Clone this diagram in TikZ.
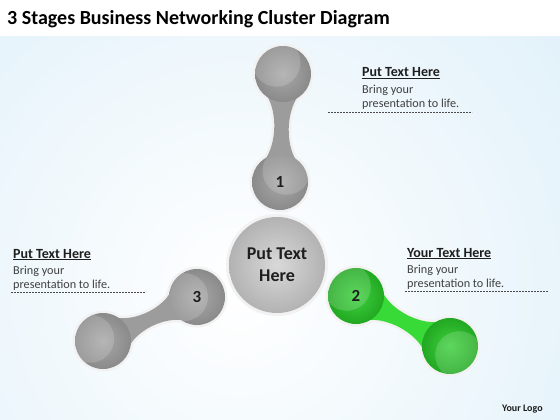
\documentclass[tikz,border=0pt]{standalone}
\usepackage{fontspec}
\setmainfont{Carlito}
\usetikzlibrary{calc}

\definecolor{bgblue}{HTML}{D2EAF7}
\definecolor{ballgray}{HTML}{A8A8A8}
\definecolor{balldark}{HTML}{8A8A8A}
\definecolor{neckgray}{HTML}{9C9C9C}
\definecolor{greenlight}{HTML}{3ED03E}
\definecolor{greendark}{HTML}{22A822}
\definecolor{neckgreen}{HTML}{38DA38}
\definecolor{rimwhite}{HTML}{F2F2F2}
\definecolor{textdark}{HTML}{1E1E1E}

\pgfdeclarelayer{back}
\pgfdeclarelayer{rim}
\pgfdeclarelayer{mid}
\pgfsetlayers{back,rim,mid,main}

\tikzset{
  ball/.style={circle, inner sep=0pt, minimum size=#1},
  crescent/.style={path picture={\fill[white, opacity=0.16]
      ($(path picture bounding box.center)+(#1:13pt)$) circle (24pt);}},
  grayball/.style={ball=56pt, inner color=ballgray, outer color=balldark},
  greenball/.style={ball=56pt, inner color=greenlight, outer color=greendark},
  numtext/.style={font=\bfseries\fontsize{17}{20}\selectfont, text=textdark},
  head/.style={anchor=base west, inner sep=0pt, font=\bfseries\fontsize{14}{16}\selectfont, text=textdark},
  body/.style={anchor=base west, inner sep=0pt, font=\fontsize{12.2}{14}\selectfont, text=textdark!85},
  dashline/.style={draw=textdark!80, dashed, dash pattern=on 2pt off 1pt, line width=0.6pt}
}

\begin{document}
\begin{tikzpicture}[x=1pt, y=-1pt]
  \useasboundingbox (0,0) rectangle (560,420);

  % Background
  \begin{pgfonlayer}{back}
    \fill[white] (0,0) rectangle (560,420);
    \begin{scope}
      \clip (0,37) rectangle (560,420);
      \fill[bgblue] (0,37) rectangle (560,420);
      \shade[inner color=white, outer color=bgblue] (240,290) circle (640);
    \end{scope}
  \end{pgfonlayer}

  % Title
  \node[anchor=base west, inner sep=0pt, font=\bfseries\fontsize{20}{24}\selectfont, text=black] (title) at (7,25)
    {3 Stages Business Networking Cluster Diagram};

  % Center ball
  \node[ball=96pt, inner color=gray!30, outer color=gray!60,
        align=center, font=\bfseries\fontsize{18}{22}\selectfont, text=textdark] (hub) at (277,265)
    {Put Text\\Here};

  % Stage balls
  \node[grayball, crescent=60, numtext] (b1in) at (280,182) {1};
  \node[grayball, crescent=120] (b1out) at (283,74) {};
  \node[greenball, crescent=135, numtext] (b2in) at (356,296) {2};
  \node[greenball, crescent=-45] (b2out) at (450,346) {};
  \node[grayball, crescent=180, numtext] (b3in) at (197,297) {3};
  \node[grayball, crescent=170] (b3out) at (103,341) {};

  % Necks between the balls, with a white rim round each dumbbell
  \foreach \a/\b/\c in {b1in/b1out/neckgray, b2in/b2out/neckgreen, b3in/b3out/neckgray}{
    \begin{pgfonlayer}{rim}
      \fill[rimwhite] (\a) circle (30.5pt) (\b) circle (30.5pt);
      \draw[rimwhite, line width=5pt] ($(\a)!27pt!35:(\b)$)
          .. controls ($(\a)!0.36!(\b)!4.5pt!90:(\b)$) and ($(\a)!0.64!(\b)!4.5pt!90:(\b)$) .. ($(\b)!27pt!-35:(\a)$)
          -- ($(\b)!27pt!35:(\a)$)
          .. controls ($(\a)!0.64!(\b)!4.5pt!-90:(\b)$) and ($(\a)!0.36!(\b)!4.5pt!-90:(\b)$) .. ($(\a)!27pt!-35:(\b)$)
          -- cycle;
    \end{pgfonlayer}
    \begin{pgfonlayer}{mid}
      \fill[\c] ($(\a)!27pt!35:(\b)$)
          .. controls ($(\a)!0.36!(\b)!4.5pt!90:(\b)$) and ($(\a)!0.64!(\b)!4.5pt!90:(\b)$) .. ($(\b)!27pt!-35:(\a)$)
          -- ($(\b)!27pt!35:(\a)$)
          .. controls ($(\a)!0.64!(\b)!4.5pt!-90:(\b)$) and ($(\a)!0.36!(\b)!4.5pt!-90:(\b)$) .. ($(\a)!27pt!-35:(\b)$)
          -- cycle;
    \end{pgfonlayer}
  }
  \begin{pgfonlayer}{rim}
    \fill[rimwhite] (hub) circle (51pt);
  \end{pgfonlayer}

  % Text top right
  \node[head] (h1) at (362,77) {\underline{Put Text Here}};
  \node[body] (t1a) at (362,93) {Bring your};
  \node[body] (t1b) at (362,107) {presentation to life.};
  \draw[dashline] (328,112) -- (472,112);

  % Text right
  \node[head] (h2) at (407,257) {\underline{Your Text Here}};
  \node[body] (t2a) at (407,273) {Bring your};
  \node[body] (t2b) at (407,287) {presentation to life.};
  \draw[dashline] (405,291) -- (548,291);

  % Text left
  \node[head] (h3) at (13,258) {\underline{Put Text Here}};
  \node[body] (t3a) at (13,274) {Bring your};
  \node[body] (t3b) at (13,288) {presentation to life.};
  \draw[dashline] (11,292) -- (146,292);

  % Logo
  \node[anchor=base west, inner sep=0pt, font=\bfseries\fontsize{10}{12}\selectfont, text=textdark] (logo) at (502,411) {Your Logo};
\end{tikzpicture}
\end{document}
